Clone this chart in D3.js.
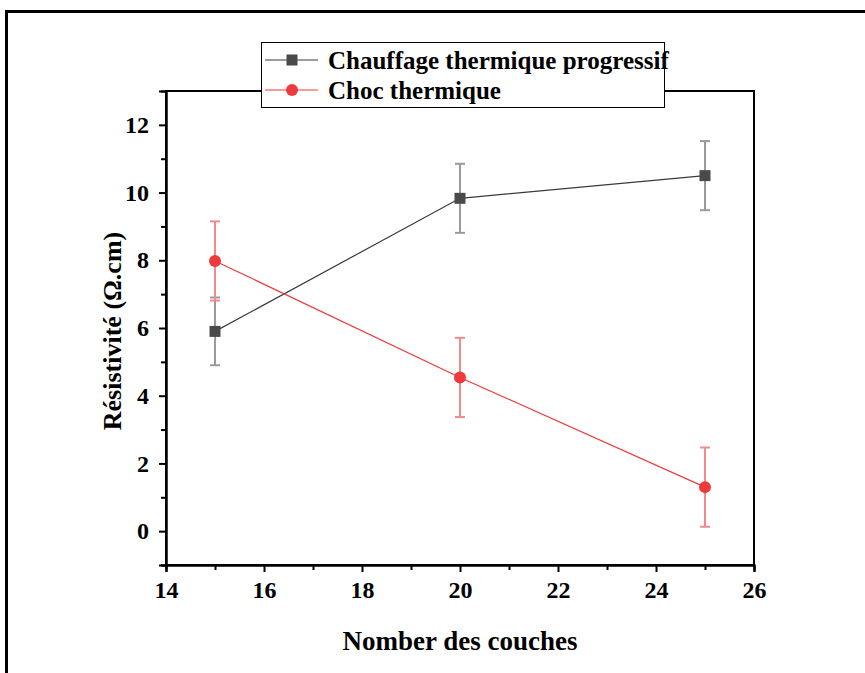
<!DOCTYPE html>
<html><head><meta charset="utf-8">
<script src="https://cdn.jsdelivr.net/npm/d3@7"></script>
<style>body{margin:0;background:#fff}svg{display:block}</style>
</head><body>
<svg id="c" width="865" height="673"></svg>
<script>
const xValues = [15, 20, 25];
const chauffage = [5.9, 9.83, 10.5];
const chauffageErr = [1.0, 1.02, 1.02];
const choc = [7.98, 4.54, 1.3];
const chocErr = [1.17, 1.17, 1.17];
const xTicks = [14, 16, 18, 20, 22, 24, 26];
const yTicks = [0, 2, 4, 6, 8, 10, 12];
const seriesNames = ["Chauffage thermique progressif", "Choc thermique"];

const svg = d3.select("#c");
const font = "'Liberation Serif','Times New Roman',serif";
const L = 166, R = 754, T = 91, B = 565;
const x = d3.scaleLinear().domain([14, 26]).range([L, R]);
const y = d3.scaleLinear().domain([-1, 13]).range([B, T]);

// outer frame (top and left)
svg.append("line").attr("x1", 5).attr("x2", 865).attr("y1", 11.5).attr("y2", 11.5).attr("stroke", "#000").attr("stroke-width", 3);
svg.append("line").attr("x1", 6.5).attr("x2", 6.5).attr("y1", 10).attr("y2", 673).attr("stroke", "#000").attr("stroke-width", 3);

// plot frame
svg.append("rect").attr("x", L).attr("y", T).attr("width", R - L).attr("height", B - T)
  .attr("fill", "none").attr("stroke", "#000").attr("stroke-width", 2);

// x axis
const xAxis = svg.append("g").attr("transform", `translate(0,${B})`)
  .call(d3.axisBottom(x).tickValues(xTicks).tickFormat(d3.format("d")).tickSize(7).tickPadding(9));
const xMinor = svg.append("g").attr("transform", `translate(0,${B})`)
  .call(d3.axisBottom(x).tickValues(d3.range(15, 26, 2)).tickFormat("").tickSize(5));
// y axis
const yAxis = svg.append("g").attr("transform", `translate(${L},0)`)
  .call(d3.axisLeft(y).tickValues(yTicks).tickFormat(d3.format("d")).tickSize(7).tickPadding(10));
const yMinor = svg.append("g").attr("transform", `translate(${L},0)`)
  .call(d3.axisLeft(y).tickValues(d3.range(-1, 13, 2)).tickFormat("").tickSize(5));
[xAxis, xMinor, yAxis, yMinor].forEach(g => {
  g.select(".domain").attr("stroke-width", 2);
  g.selectAll(".tick line").attr("stroke-width", 2);
  g.selectAll("text").attr("font-family", font).attr("font-weight", "bold").attr("font-size", 24).attr("fill", "#000");
});

// axis titles
svg.append("text").attr("x", (L + R) / 2).attr("y", 650).attr("text-anchor", "middle")
  .attr("font-family", font).attr("font-weight", "bold").attr("font-size", 27).text("Nomber des couches");
svg.append("text").attr("transform", `translate(121,${(T + B) / 2 + 3}) rotate(-90)`).attr("text-anchor", "middle")
  .attr("font-family", font).attr("font-weight", "bold").attr("font-size", 26).text("Résistivité (Ω.cm)");

function drawSeries(vals, errs, lineColor, errColor, markerColor, shape) {
  const data = xValues.map((v, i) => ({ x: v, y: vals[i], e: errs[i] }));
  const g = svg.append("g");
  g.append("path").datum(data).attr("fill", "none").attr("stroke", lineColor).attr("stroke-width", 1.2)
    .attr("d", d3.line().x(d => x(d.x)).y(d => y(d.y)));
  const eb = g.selectAll(".eb").data(data).enter().append("g");
  eb.append("line").attr("x1", d => x(d.x)).attr("x2", d => x(d.x)).attr("y1", d => y(d.y - d.e)).attr("y2", d => y(d.y + d.e))
    .attr("stroke", errColor).attr("stroke-width", 2);
  [1, -1].forEach(s => {
    eb.append("line").attr("x1", d => x(d.x) - 5).attr("x2", d => x(d.x) + 5)
      .attr("y1", d => y(d.y + s * d.e)).attr("y2", d => y(d.y + s * d.e))
      .attr("stroke", errColor).attr("stroke-width", 2);
  });
  if (shape === "square") {
    g.selectAll(".m").data(data).enter().append("rect")
      .attr("x", d => x(d.x) - 5.5).attr("y", d => y(d.y) - 5.5).attr("width", 11).attr("height", 11).attr("fill", markerColor);
  } else {
    g.selectAll(".m").data(data).enter().append("circle")
      .attr("cx", d => x(d.x)).attr("cy", d => y(d.y)).attr("r", 6).attr("fill", markerColor);
  }
}
drawSeries(chauffage, chauffageErr, "#3a3a3a", "#9a9a9a", "#4a4a4a", "square");
drawSeries(choc, chocErr, "#ee3a3a", "#f28a8a", "#ee3a3a", "circle");

// legend
const lg = svg.append("g");
lg.append("rect").attr("x", 261.5).attr("y", 42.5).attr("width", 403).attr("height", 65)
  .attr("fill", "#fff").attr("stroke", "#000").attr("stroke-width", 1);
const legendItems = [
  { name: seriesNames[0], line: "#3a3a3a", marker: "#4a4a4a", shape: "square", cy: 60 },
  { name: seriesNames[1], line: "#ee3a3a", marker: "#ee3a3a", shape: "circle", cy: 90 }
];
legendItems.forEach(it => {
  lg.append("line").attr("x1", 265).attr("x2", 318).attr("y1", it.cy).attr("y2", it.cy).attr("stroke", it.line).attr("stroke-width", 1.2);
  if (it.shape === "square") lg.append("rect").attr("x", 286.5).attr("y", it.cy - 5.5).attr("width", 11).attr("height", 11).attr("fill", it.marker);
  else lg.append("circle").attr("cx", 292).attr("cy", it.cy).attr("r", 6).attr("fill", it.marker);
  lg.append("text").attr("x", 328).attr("y", it.cy + 9).attr("font-family", font).attr("font-weight", "bold")
    .attr("font-size", 25).text(it.name);
});
</script>
</body></html>
